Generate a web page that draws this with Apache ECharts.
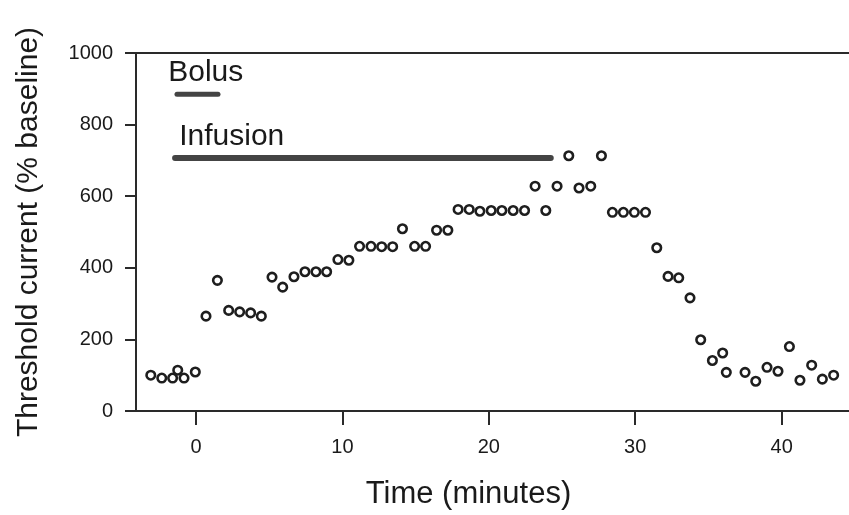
<!DOCTYPE html>
<html>
<head>
<meta charset="utf-8">
<script src="https://cdn.jsdelivr.net/npm/echarts@6/dist/echarts.min.js"></script>
<style>
html,body{margin:0;padding:0;background:#fff;}
#chart{width:849px;height:515px;}
</style>
</head>
<body>
<div id="chart"></div>
<script>
// Data
const timeMin = [-3.09,-2.34,-1.6,-1.25,-0.82,-0.05,0.68,1.46,2.23,2.98,3.73,4.46,5.19,5.92,6.69,7.44,8.19,8.92,9.69,10.44,11.17,11.95,12.68,13.43,14.1,14.93,15.68,16.43,17.2,17.9,18.66,19.39,20.16,20.89,21.66,22.44,23.16,23.89,24.66,25.46,26.16,26.96,27.69,28.44,29.19,29.94,30.7,31.47,32.24,32.97,33.74,34.47,35.27,35.97,36.22,37.5,38.23,39.0,39.75,40.53,41.25,42.05,42.78,43.55];
const threshold = [100,92,92,114,92,109,265,365,281,277,274,265,374,346,375,389,389,389,423,421,460,460,459,459,509,460,460,505,505,563,563,558,560,560,560,560,628,560,628,713,623,628,713,555,555,555,555,456,376,372,316,199,141,162,108,108,83,122,111,180,86,128,89,100];
const xTicks = [0,10,20,30,40];
const yTicks = [0,200,400,600,800,1000];
const bolusRange = [-1.3, 1.5];
const bolusLevel = 885;
const infusionRange = [-1.43, 24.23];
const infusionLevel = 707;
const annotationNames = ['Bolus','Infusion'];
const annotationPos = [[-1.9, 945],[-1.15, 765]];

const FONT = 'Liberation Sans, Arial, Helvetica, sans-serif';
const chart = echarts.init(document.getElementById('chart'));
const points = timeMin.map((t,i)=>[t, threshold[i]]);

chart.setOption({
  animation: false,
  backgroundColor: '#fff',
  grid: {left: 136, top: 53, right: 0, bottom: 103, containLabel: false},
  xAxis: [{
    type: 'value', min: -4.1, max: 44.6,
    name: 'Time (minutes)', nameLocation: 'middle', nameGap: 68,
    nameTextStyle: {fontFamily: FONT, fontSize: 31, color: '#1a1a1a', padding: [0,48,0,0]},
    axisLine: {show: true, onZero: false, lineStyle: {color: '#2a2a2a', width: 2}},
    axisTick: {show: true, length: 14, lineStyle: {color: '#2a2a2a', width: 2}, customValues: xTicks},
    axisLabel: {fontFamily: FONT, fontSize: 20, color: '#1a1a1a', margin: 26, customValues: xTicks},
    splitLine: {show: false}
  },{
    type: 'value', min: -4.1, max: 44.6, position: 'top',
    axisLine: {show: true, onZero: false, lineStyle: {color: '#2a2a2a', width: 2}},
    axisTick: {show: false}, axisLabel: {show: false}, splitLine: {show: false}
  }],
  yAxis: {
    type: 'value', min: 0, max: 1000, interval: 200,
    name: 'Threshold current (% baseline)', nameLocation: 'middle', nameGap: 92,
    nameTextStyle: {fontFamily: FONT, fontSize: 30, color: '#1a1a1a'},
    axisLine: {show: true, onZero: false, lineStyle: {color: '#2a2a2a', width: 2}},
    axisTick: {show: true, length: 11, lineStyle: {color: '#2a2a2a', width: 2}},
    axisLabel: {fontFamily: FONT, fontSize: 20, color: '#1a1a1a', margin: 23, formatter: v => String(v)},
    splitLine: {show: false}
  },
  series: [
    {
      type: 'line', xAxisIndex: 0, data: bolusRange.map(x=>[x, bolusLevel]),
      showSymbol: false, symbol: 'none', lineStyle: {color: '#444', width: 5, cap: 'round'}, z: 3
    },
    {
      type: 'line', xAxisIndex: 0, data: infusionRange.map(x=>[x, infusionLevel]),
      showSymbol: false, symbol: 'none', lineStyle: {color: '#444', width: 6, cap: 'round'}, z: 3
    },
    {
      type: 'scatter', xAxisIndex: 0, data: annotationPos.map((p,i)=>({value: p, name: annotationNames[i]})),
      symbolSize: 0, silent: true, itemStyle: {opacity: 1},
      label: {show: true, position: 'right', distance: 0, formatter: '{b}', fontFamily: FONT, fontSize: 30, color: '#1a1a1a', opacity: 1}
    },
    {
      type: 'scatter', xAxisIndex: 0, data: points,
      symbol: 'circle', symbolSize: 8.5,
      itemStyle: {color: '#fff', borderColor: '#1e1e1e', borderWidth: 2.6, opacity: 1}, z: 5
    }
  ]
});
</script>
</body>
</html>
